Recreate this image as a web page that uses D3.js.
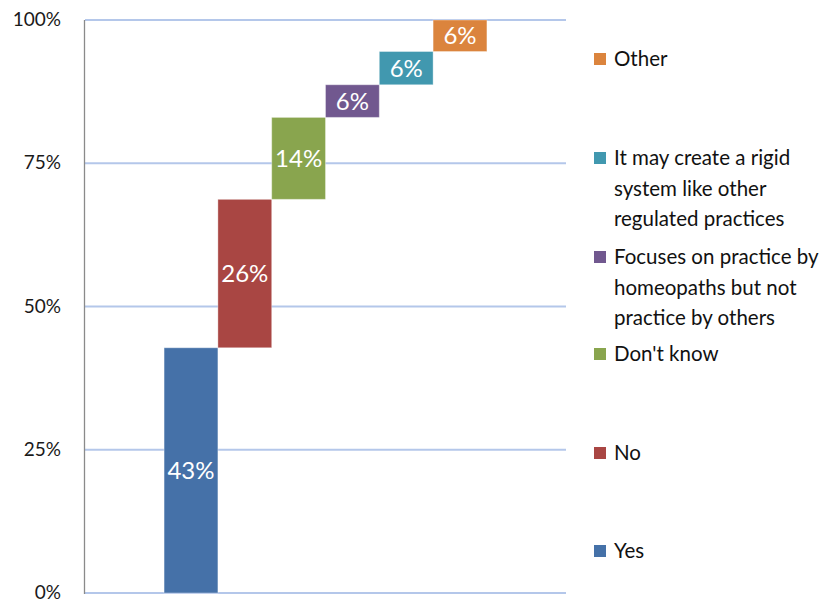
<!DOCTYPE html>
<html>
<head>
<meta charset="utf-8">
<script src="https://cdn.jsdelivr.net/npm/d3@7"></script>
<style>
  html, body { margin: 0; padding: 0; background: #fff; }
  svg { display: block; }
</style>
</head>
<body>
<svg id="chart" width="833" height="600"></svg>
<script>
// Survey responses, in percent of respondents (stacked as a waterfall)
const categories = ["Yes", "No", "Don't know",
  "Focuses on practice by homeopaths but not practice by others",
  "It may create a rigid system like other regulated practices",
  "Other"];
const values = [42.8, 25.9, 14.3, 5.7, 5.8, 5.5];
const colors = ["#4571A8", "#A94643", "#89A54E", "#71588F", "#4198AF", "#DB843D"];
const yTicks = [0, 25, 50, 75, 100];
// Legend text broken into lines
const legendLines = [
  ["Yes"],
  ["No"],
  ["Don't know"],
  ["Focuses on practice by", "homeopaths but not", "practice by others"],
  ["It may create a rigid", "system like other", "regulated practices"],
  ["Other"]
];

const svg = d3.select("#chart");
const plot = { left: 85, right: 566, top: 20, bottom: 593 };

const y = d3.scaleLinear().domain([0, 100]).range([plot.bottom, plot.top]);
const x = d3.scaleBand().domain(categories)
  .range([plot.left, plot.right]).paddingInner(0).paddingOuter(1.47);

// cumulative start / end of each step
let acc = 0;
const steps = values.map((v, i) => {
  const s = { cat: categories[i], v, y0: acc, y1: acc + v, color: colors[i] };
  acc += v;
  return s;
});

// horizontal gridlines
svg.append("g")
  .selectAll("line").data(yTicks).join("line")
  .attr("x1", plot.left).attr("x2", plot.right)
  .attr("y1", d => y(d)).attr("y2", d => y(d))
  .attr("stroke", "#B4C7EA").attr("stroke-width", 2);

// y axis
const yAxis = d3.axisLeft(y).tickValues(yTicks).tickFormat(d => d + "%").tickSize(0).tickPadding(24);
const gy = svg.append("g").attr("transform", `translate(${plot.left},0)`).call(yAxis);
gy.select(".domain").remove();
gy.selectAll("text")
  .attr("font-family", "Lato, 'Open Sans', sans-serif")
  .attr("font-size", 19).attr("fill", "#1a1a1a")
  .attr("dy", "0.3em");
svg.append("line")
  .attr("x1", plot.left - 0.5).attr("x2", plot.left - 0.5)
  .attr("y1", plot.top).attr("y2", plot.bottom + 1)
  .attr("stroke", "#8a8a8a").attr("stroke-width", 1.3);

// waterfall bars
svg.append("g").selectAll("rect").data(steps).join("rect")
  .attr("x", d => x(d.cat))
  .attr("width", x.bandwidth())
  .attr("y", d => y(d.y1))
  .attr("height", d => y(d.y0) - y(d.y1))
  .attr("fill", d => d.color)
  .attr("stroke", "rgba(255,255,255,0.35)").attr("stroke-width", 1);

// value labels inside bars
svg.append("g").selectAll("text").data(steps).join("text")
  .attr("x", d => x(d.cat) + x.bandwidth() / 2)
  .attr("y", d => (y(d.y0) + y(d.y1)) / 2)
  .attr("dy", "0.36em")
  .attr("text-anchor", "middle")
  .attr("font-family", "Lato, 'Open Sans', sans-serif")
  .attr("font-size", 24)
  .attr("fill", "#fff")
  .text(d => Math.round(d.v) + "%");

// legend
const legendY = [551, 453, 354, 257, 158, 59];
const lg = svg.append("g");
steps.forEach((d, i) => {
  const g = lg.append("g").attr("transform", `translate(594,${legendY[i]})`);
  g.append("rect").attr("x", 0).attr("y", -6).attr("width", 12).attr("height", 12)
    .attr("fill", d.color);
  const t = g.append("text")
    .attr("x", 20).attr("y", 0)
    .attr("font-family", "Lato, 'Open Sans', sans-serif")
    .attr("font-size", 20.5).attr("fill", "#111");
  legendLines[i].forEach((line, j) => {
    t.append("tspan").attr("x", 20).attr("dy", j === 0 ? "0.35em" : 30.5).text(line);
  });
});
</script>
</body>
</html>
